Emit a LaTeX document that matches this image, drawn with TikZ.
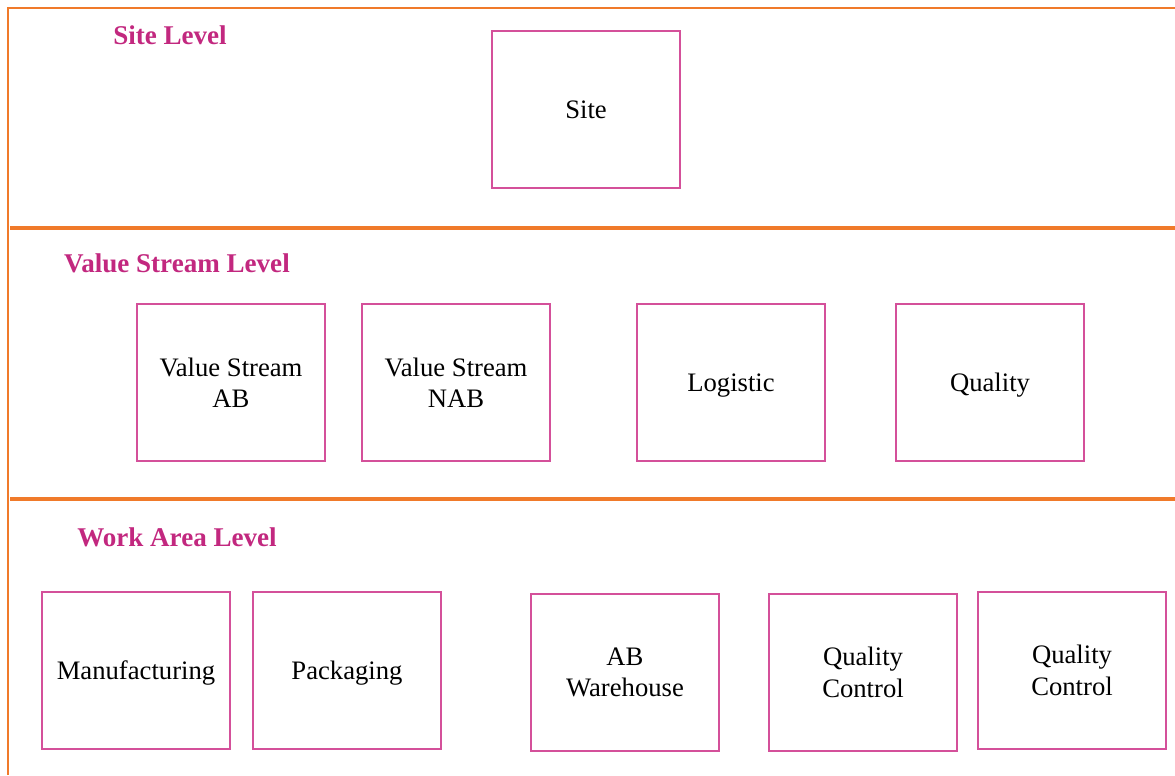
\documentclass[tikz,border=0pt]{standalone}
\usepackage{fontspec}
\setmainfont{Liberation Serif}
\definecolor{bandline}{HTML}{F07A2A}
\definecolor{levelcol}{HTML}{C2287F}
\definecolor{boxcol}{HTML}{D4509A}
\begin{document}
\begin{tikzpicture}[x=0.75pt,y=-0.75pt,
  unitbox/.style={draw=boxcol,line width=1.5pt,minimum width=188*0.75pt,minimum height=157*0.75pt,
    inner sep=0pt,align=center,font=\fontsize{20}{23.5}\selectfont,anchor=north west},
  % single lines: centre on the baseline, ignoring descenders
  oneline/.style={text height=14pt,text depth=0pt},
  levellabel/.style={text=levelcol,font=\bfseries\fontsize{20.3}{23}\selectfont,inner sep=0pt},
  frame/.style={draw=bandline,line width=1.3pt},
  divider/.style={draw=bandline,line width=3pt}]
\useasboundingbox (0,0) rectangle (1175,775);
% outer frame and level dividers
\coordinate (tl) at (8,8);
\coordinate (tr) at (1175,8);
\coordinate (bl) at (8,775);
\draw[frame] (bl) -- (tl) -- (tr);
\coordinate (d1a) at (10,228);
\coordinate (d1b) at (1175,228);
\coordinate (d2a) at (10,499);
\coordinate (d2b) at (1175,499);
\draw[divider] (d1a) -- (d1b);
\draw[divider] (d2a) -- (d2b);
% level titles
\node[levellabel] (lsite) at (170,35) {Site Level};
\node[levellabel] (lvs) at (177,263) {Value Stream Level};
\node[levellabel] (lwa) at (177,537) {Work Area Level};
% site level
\node[unitbox,oneline] (site) at (491,30) {Site};
% value stream level
\node[unitbox] (vsab) at (136,303) {Value Stream\\AB};
\node[unitbox] (vsnab) at (361,303) {Value Stream\\NAB};
\node[unitbox,oneline] (logi) at (636,303) {Logistic};
\node[unitbox,oneline] (qual) at (895,303) {Quality};
% work area level
\node[unitbox,oneline] (manu) at (41,591) {Manufacturing};
\node[unitbox,oneline] (pack) at (252,591) {Packaging};
\node[unitbox] (abwh) at (530,593) {AB\\Warehouse};
\node[unitbox] (qc1) at (768,593) {Quality\\Control};
\node[unitbox] (qc2) at (977,591) {Quality\\Control};
\end{tikzpicture}
\end{document}
